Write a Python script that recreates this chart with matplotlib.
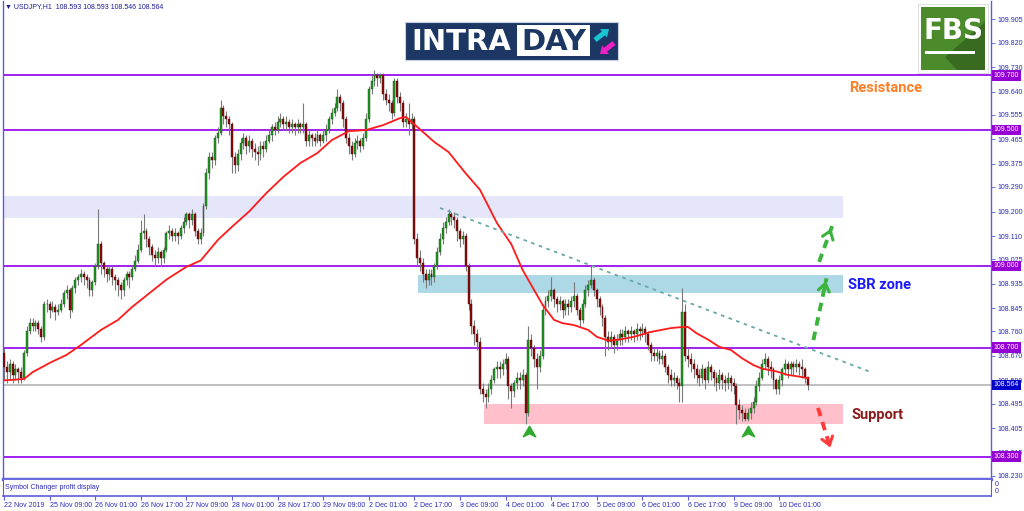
import numpy as np
import matplotlib.pyplot as plt
from matplotlib.patches import Rectangle, Polygon, FancyArrow
from matplotlib.path import Path
from matplotlib.transforms import blended_transform_factory

plt.rcParams['font.family'] = ['Liberation Sans', 'DejaVu Sans']

# USDJPY H1, 22 Nov 2019 17:00 .. 10 Dec 2019 11:00
# prices in pips above 108.00 (open = previous close)
open_first = 68
closes = [
    63, 61, 64, 60, 62, 61, 59, 68, 76, 79,
    78, 79, 77, 74, 86, 86, 84, 85, 83, 84,
    86, 90, 91, 84, 92, 95, 96, 97, 96, 95,
    91, 94, 100, 108, 101, 99, 97, 99, 96, 95,
    93, 91, 95, 97, 96, 99, 102, 106, 112, 113,
    110, 107, 104, 103, 105, 103, 106, 112, 113, 111,
    112, 111, 114, 116, 119, 117, 119, 113, 110, 112,
    122, 134, 140, 139, 147, 149, 158, 155, 154, 152,
    140, 137, 141, 145, 147, 144, 146, 143, 142, 141,
    144, 143, 146, 148, 151, 150, 153, 154, 152, 153,
    151, 152, 151, 152, 151, 152, 146, 148, 147, 146,
    148, 146, 148, 150, 154, 156, 158, 162, 160, 154,
    147, 144, 141, 145, 146, 144, 147, 154, 165, 168,
    170, 169, 170, 163, 161, 160, 156, 168, 162, 160,
    153, 154, 152, 154, 110, 103, 101, 97, 95, 97,
    96, 100, 105, 110, 114, 116, 119, 118, 117, 113,
    110, 111, 100, 86, 78, 75, 72, 55, 53, 52,
    55, 58, 62, 63, 62, 64, 66, 56, 54, 57,
    59, 58, 60, 46, 73, 70, 66, 63, 67, 84,
    87, 89, 91, 88, 86, 87, 84, 86, 85, 87,
    89, 84, 80, 86, 91, 93, 95, 91, 88, 85,
    81, 74, 72, 74, 71, 73, 75, 74, 76, 75,
    76, 75, 77, 76, 77, 75, 71, 68, 67, 68,
    66, 67, 63, 60, 58, 59, 57, 56, 83, 67,
    66, 64, 62, 60, 59, 62, 58, 63, 61, 59,
    57, 60, 58, 57, 59, 57, 56, 49, 47, 46,
    44, 46, 48, 50, 56, 59, 64, 66, 63, 62,
    58, 55, 58, 62, 64, 62, 64, 63, 64, 63,
    62, 59.3, 56.4,
]
highs = [
    70, 65, 66, 65, 64, 63, 63, 69, 78, 81,
    81, 80, 80, 78, 87, 88, 87, 87, 86, 86,
    88, 91, 93, 92, 93, 96, 97, 99, 98, 97,
    96, 95, 101, 121, 109, 102, 100, 100, 100, 97,
    96, 94, 96, 98, 98, 100, 104, 108, 117, 119,
    114, 111, 108, 106, 107, 106, 107, 113, 115, 114,
    114, 113, 115, 118, 120, 120, 121, 120, 114, 114,
    123, 136, 142, 142, 148, 151, 161, 159, 157, 155,
    153, 142, 143, 147, 149, 148, 148, 147, 145, 144,
    146, 146, 148, 150, 152, 153, 155, 156, 155, 155,
    154, 154, 153, 154, 153, 160, 153, 150, 149, 149,
    150, 149, 150, 152, 155, 158, 160, 165, 163, 161,
    155, 149, 146, 147, 148, 147, 149, 156, 166, 170,
    172, 171, 171, 171, 165, 163, 161, 169, 169, 164,
    161, 156, 160, 156, 155, 112, 106, 103, 99, 99,
    99, 101, 107, 112, 116, 118, 121, 120, 120, 118,
    114, 113, 112, 101, 88, 80, 77, 74, 57, 55,
    57, 60, 63, 65, 65, 66, 68, 67, 57, 58,
    61, 61, 62, 61, 78, 75, 71, 68, 69, 86,
    89, 91, 96, 92, 89, 89, 88, 88, 88, 89,
    94, 90, 85, 88, 93, 95, 100, 96, 92, 89,
    86, 82, 76, 76, 75, 75, 77, 77, 78, 77,
    78, 77, 79, 78, 79, 78, 76, 72, 70, 70,
    69, 69, 68, 64, 62, 61, 60, 59, 92, 86,
    70, 68, 66, 64, 62, 64, 63, 65, 64, 62,
    61, 62, 61, 60, 61, 60, 59, 57, 51, 49,
    48, 48, 50, 52, 58, 61, 66, 68, 67, 65,
    63, 59, 60, 63, 66, 65, 65, 65, 66, 65,
    66, 63, 59.3,
]
lows = [
    58, 57, 58, 57, 58, 57, 57, 58, 67, 75,
    76, 76, 75, 72, 73, 83, 81, 83, 80, 82,
    83, 85, 88, 81, 83, 90, 93, 94, 93, 92,
    89, 89, 93, 99, 97, 96, 94, 95, 93, 91,
    89, 88, 89, 93, 92, 95, 98, 101, 105, 110,
    107, 104, 102, 100, 101, 100, 101, 105, 110, 109,
    109, 108, 110, 112, 115, 114, 115, 111, 108, 108,
    111, 121, 132, 136, 137, 145, 148, 152, 151, 148,
    134, 134, 135, 139, 143, 141, 142, 140, 139, 137,
    139, 140, 142, 145, 146, 148, 149, 151, 150, 150,
    149, 149, 148, 149, 149, 149, 144, 144, 144, 144,
    145, 144, 145, 146, 149, 152, 155, 157, 157, 151,
    145, 141, 139, 140, 143, 142, 143, 146, 153, 163,
    166, 166, 167, 161, 159, 157, 154, 155, 160, 157,
    151, 151, 148, 150, 108, 100, 98, 94, 92, 93,
    93, 94, 99, 104, 108, 112, 115, 115, 114, 109,
    107, 108, 98, 84, 75, 71, 69, 53, 50, 48,
    50, 53, 57, 59, 59, 60, 62, 51, 48, 52,
    55, 55, 56, 42, 45, 67, 63, 55, 61, 66,
    82, 85, 87, 85, 83, 84, 81, 82, 82, 83,
    85, 82, 78, 79, 85, 89, 92, 89, 85, 82,
    78, 67, 69, 70, 68, 69, 71, 71, 72, 72,
    73, 72, 73, 73, 74, 72, 69, 65, 65, 65,
    64, 64, 61, 57, 56, 56, 55, 50, 50, 65,
    63, 61, 59, 57, 56, 57, 55, 57, 58, 56,
    54, 55, 55, 54, 55, 54, 53, 42, 44, 43,
    43, 43, 44, 46, 49, 54, 58, 62, 60, 59,
    55, 53, 53, 56, 60, 59, 60, 60, 61, 60,
    59, 57, 54.6,
]

# moving average, sampled along the red line
ma_bars = [0, 7, 10, 16, 22, 27, 34, 40, 45, 51, 57, 64, 69, 75, 80, 86, 92, 98, 104, 110,
           115, 121, 127, 133, 139, 141, 143, 147, 151, 156, 162, 167, 173, 178, 182, 186, 189, 193, 196, 200,
           205, 208, 212, 216, 221, 227, 234, 238, 240, 243, 247, 251, 255, 259, 263, 266, 271, 275, 279, 282]
ma_pips = [58, 58.5, 61, 64.4, 67.4, 71, 76.5, 80.2, 85, 90, 95, 99.7, 102, 109.5, 114.4, 120, 126.7, 132.7, 137.8, 141.5,
           146.2, 149.5, 149.9, 151.7, 154.3, 154.7, 152.9, 149.2, 145.5, 141.8, 134, 128, 115.7, 108, 98.5, 91.2, 85.7, 80.2, 79, 78.3,
           76.5, 74, 72.6, 73, 74, 75.8, 77.2, 77.6, 77.6, 75.3, 73, 70.3, 69.2, 66.1, 63.6, 62.3, 61.3, 60, 59.4, 58.8]

level_lines = [109.700, 109.500, 109.000, 108.700, 108.300]
last_price = 108.564
ytick_vals = [109.905, 109.820, 109.730, 109.640, 109.555, 109.465, 109.375, 109.290, 109.200, 109.110,
              109.025, 108.935, 108.845, 108.760, 108.670, 108.580, 108.495, 108.405, 108.315, 108.230]
xtick_bars = list(range(0, 273, 16))
xtick_labels = ['22 Nov 2019', '25 Nov 09:00', '26 Nov 01:00', '26 Nov 17:00', '27 Nov 09:00', '28 Nov 01:00',
                '28 Nov 17:00', '29 Nov 09:00', '2 Dec 01:00', '2 Dec 17:00', '3 Dec 09:00', '4 Dec 01:00',
                '4 Dec 17:00', '5 Dec 09:00', '6 Dec 01:00', '6 Dec 17:00', '9 Dec 09:00', '10 Dec 01:00']

c = 108 + np.array(closes) / 100
h = 108 + np.array(highs) / 100
l = 108 + np.array(lows) / 100
o = np.concatenate([[108 + open_first / 100], c[:-1]])
x = np.arange(len(c))

W, H = 1024, 511
fig = plt.figure(figsize=(W / 100, H / 100), dpi=100)


def fx(px):
    return px / W


def fy(py):
    return 1 - py / H


axis_blue = '#5c5cd8'
text_blue = '#2a2ab8'

ax = fig.add_axes([fx(3), fy(479), fx(991) - fx(3), fy(1) - fy(479)])
ax.set_xlim((3 - 4) / 2.85, (991 - 4) / 2.85)
ax.set_ylim(109.700 - (479 - 75.3) / 272.4, 109.700 - (1 - 75.3) / 272.4)
ax.spines['top'].set_visible(False)
for s in ['left', 'right']:
    ax.spines[s].set_color(axis_blue)
    ax.spines[s].set_linewidth(1)
ax.spines['bottom'].set_color('#6b6be0')
ax.spines['bottom'].set_linewidth(2.5)
ax.set_xticks([])
ax.yaxis.tick_right()
ax.set_yticks(ytick_vals)
ax.set_yticklabels([f'{v:.3f}' for v in ytick_vals])
ax.tick_params(axis='y', direction='out', length=3, width=0.6, color=axis_blue,
               labelcolor=text_blue, labelsize=5, pad=2)

# zones
ax.add_patch(Rectangle((ax.get_xlim()[0], 109.175), 294.4 - ax.get_xlim()[0], 0.081,
                       fc='#e6e6fa', ec='none', zorder=0.5))
ax.add_patch(Rectangle((145.3, 108.899), 294.4 - 145.3, 0.068, fc='#add8e6', ec='none', zorder=0.5))
ax.add_patch(Rectangle((168.4, 108.419), 294.4 - 168.4, 0.073, fc='#ffc0cb', ec='none', zorder=0.5))

# horizontal levels
for v in level_lines:
    ax.axhline(v, color='#a020f0', lw=1.4, zorder=1)
ax.axhline(last_price, color='#c0c0c0', lw=1.4, zorder=1)

# candles
bull = c >= o
ax.vlines(x, l, h, color='#7a7a7a', lw=0.8, zorder=2)
body = np.maximum(np.abs(c - o), 0.0004)
ax.bar(x[bull], body[bull], bottom=np.minimum(o, c)[bull], width=0.7,
       color='#1f9a1f', edgecolor='#1a4a1a', lw=0.3, zorder=3)
ax.bar(x[~bull], body[~bull], bottom=np.minimum(o, c)[~bull], width=0.7,
       color='#8b0a0a', edgecolor='#4a0a0a', lw=0.3, zorder=3)

# moving average
ax.plot(ma_bars, 108 + np.array(ma_pips) / 100, color='#ff1a1a', lw=1.3, zorder=4)

# trend line
ax.plot([153, 304], [109.213, 108.611], color='#6aa8a8', lw=1.3, ls=(0, (2, 2.5)), zorder=4)


def dashed_arrow(x0, y0, x1, y1, col):
    ax.plot([x0, x1], [y0, y1], color=col, lw=2.8, ls=(0, (2.2, 1.6)), zorder=5,
            solid_capstyle='butt')
    ax.annotate('', xy=(x1, y1), xytext=(x0 + (x1 - x0) * 0.8, y0 + (y1 - y0) * 0.8),
                arrowprops=dict(arrowstyle='->,head_length=0.55,head_width=0.4', color=col, lw=2.2),
                zorder=5)


dashed_arrow(284, 108.728, 288.6, 108.955, '#3cb43c')
dashed_arrow(286, 109.015, 290.6, 109.147, '#3cb43c')
dashed_arrow(285.6, 108.479, 290.2, 108.324, '#ff3b3b')

up_marker = Path([(0, 1), (1, -0.7), (0, -0.2), (-1, -0.7), (0, 1)],
                 [Path.MOVETO, Path.LINETO, Path.LINETO, Path.LINETO, Path.CLOSEPOLY])
ax.plot([184.2, 261], [108.39, 108.39], marker=up_marker, ms=9, color='#2eaa2e',
        ls='none', zorder=5)

ax.text(296.5, 109.653, 'Resistance', color='#ff7f27', fontsize=10.5, fontweight='bold',
        family=['Roboto', 'DejaVu Sans'], va='center', ha='left', zorder=6)
ax.text(296.1, 108.930, 'SBR zone', color='#1a1aff', fontsize=10.5, fontweight='bold',
        family=['Roboto', 'DejaVu Sans'], va='center', ha='left', zorder=6)
ax.text(297.5, 108.453, 'Support', color='#8b1a1a', fontsize=10.5, fontweight='bold',
        family=['Roboto', 'DejaVu Sans'], va='center', ha='left', zorder=6)

# price tags on the right scale
trans = blended_transform_factory(ax.transAxes, ax.transData)
for v in level_lines:
    ax.text(1.003, v, f'{v:.3f}', transform=trans, fontsize=5, color='white', va='center', ha='left',
            bbox=dict(boxstyle='square,pad=0.25', fc='#9400d3', ec='none'), clip_on=False, zorder=10)
ax.text(1.003, last_price, f'{last_price:.3f}', transform=trans, fontsize=5, color='white',
        va='center', ha='left', bbox=dict(boxstyle='square,pad=0.25', fc='#0000cd', ec='none'),
        clip_on=False, zorder=10)

# indicator sub-window with the time scale
sub = fig.add_axes([fx(3), fy(496), fx(991) - fx(3), fy(480) - fy(496)])
sub.set_xlim(ax.get_xlim())
sub.set_ylim(0, 1)
sub.set_yticks([])
sub.set_xticks(xtick_bars)
sub.set_xticklabels(xtick_labels)
for t in sub.get_xticklabels():
    t.set_horizontalalignment('left')
sub.tick_params(axis='x', direction='out', length=3, width=0.8, color=axis_blue,
                labelcolor=text_blue, labelsize=5, pad=1)
sub.spines['top'].set_visible(False)
for s in ['left', 'right', 'bottom']:
    sub.spines[s].set_color(axis_blue)
sub.spines['bottom'].set_linewidth(1.2)
sub.text(0.002, 0.55, 'Symbol Changer profit display', transform=sub.transAxes, fontsize=5,
         color=text_blue, va='center', ha='left')
sub.text(1.004, 0.72, '0', transform=sub.transAxes, fontsize=5, color=text_blue, va='center')
sub.text(1.004, 0.3, '0', transform=sub.transAxes, fontsize=5, color=text_blue, va='center')

fig.text(fx(5), fy(7), '\u25bc USDJPY,H1  108.593 108.593 108.546 108.564', fontsize=5,
         color='#1a1a9c', va='center', ha='left')

# logos, drawn in pixel space
ov = fig.add_axes([0, 0, 1, 1])
ov.set_xlim(0, W)
ov.set_ylim(H, 0)
ov.axis('off')
ov.patch.set_visible(False)

navy = '#1c3764'
ov.add_patch(Rectangle((405, 22), 213, 38, fc=navy, ec='#c8cfe0', lw=0.8))
ov.text(411, 41.5, 'INTRA', color='white', fontsize=21, fontweight='bold',
        family=['DejaVu Sans'], va='center', ha='left')
ov.add_patch(Rectangle((517, 25), 73, 31, fc='white', ec='none'))
ov.text(553.5, 41.5, 'DAY', color=navy, fontsize=21, fontweight='bold',
        family=['DejaVu Sans'], va='center', ha='center')
ov.add_patch(FancyArrow(595, 40, 14, -11, width=5, head_width=11, head_length=7,
                        length_includes_head=True, fc='#19c3d1', ec='none'))
ov.add_patch(FancyArrow(614, 43, -14, 11, width=5, head_width=11, head_length=7,
                        length_includes_head=True, fc='#ee1fc4', ec='none'))

ov.add_patch(Rectangle((918, 4), 70, 69, fc='white', ec='#d8d8d8', lw=0.6))
ov.add_patch(Rectangle((921, 7), 64, 63, fc='#4b8b2b', ec='none'))
ov.add_patch(Polygon([[945, 57], [985, 22], [985, 70], [957, 70]], fc='#386b1f', ec='none'))
ov.text(953, 31, 'FBS', color='white', fontsize=20, fontweight='bold',
        family=['Liberation Sans Narrow', 'DejaVu Sans'], va='center', ha='center')
ov.add_patch(Rectangle((925, 51), 50, 3.5, fc='white', ec='none'))

fig.savefig('out.png', dpi=100, facecolor='white')
